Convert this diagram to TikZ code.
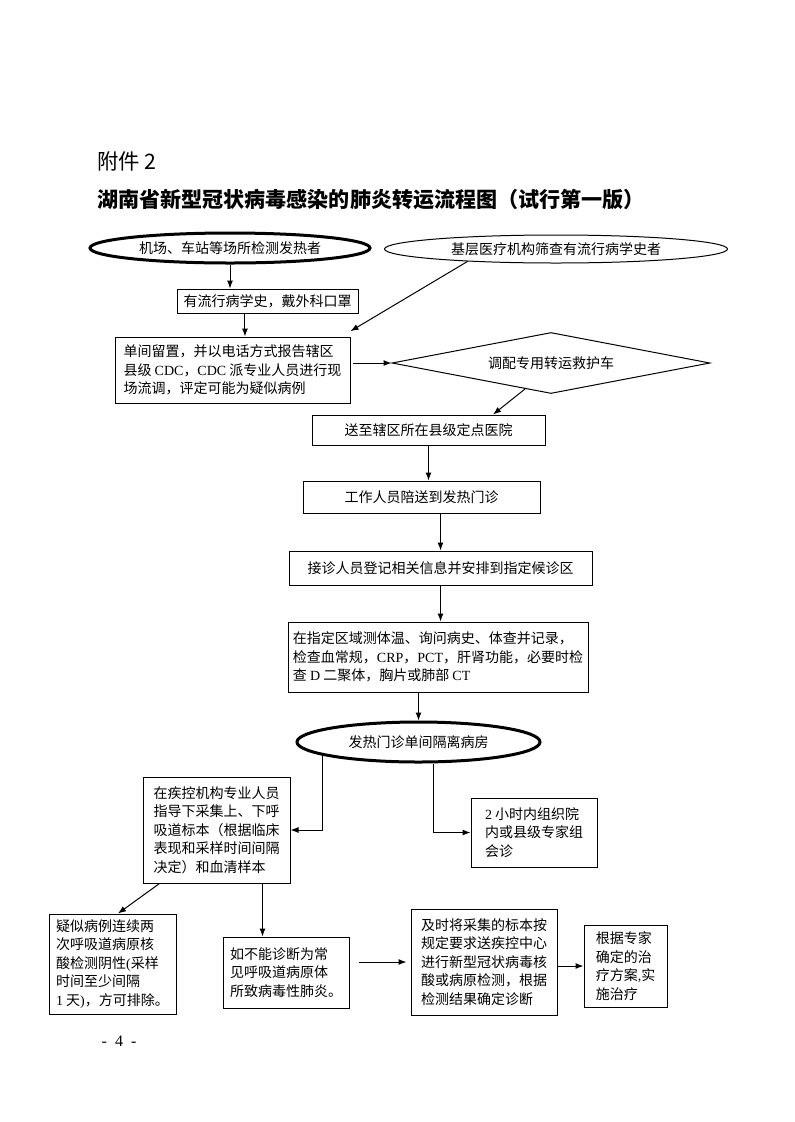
\documentclass[tikz,border=0pt]{standalone}
\usepackage{fontspec}
\setmainfont{Noto Sans CJK SC}
\newfontfamily\lat{Liberation Serif}
\usetikzlibrary{shapes.geometric,arrows.meta}

\begin{document}
\begin{tikzpicture}[x=0.75pt,y=-0.75pt,>={Latex[length=6pt,width=4.5pt]}]
    \tikzstyle{body}=[font=\fontsize{10.5pt}{13.9pt}\selectfont]
    \tikzstyle{box}=[body,rectangle,draw,line width=0.75pt,align=left,inner sep=2pt]
    \tikzstyle{oval}=[body,ellipse,draw,line width=0.75pt,inner sep=0pt]
    \tikzstyle{boldoval}=[oval,line width=2.25pt]
    \tikzstyle{choice}=[body,diamond,draw,line width=0.75pt,inner sep=0pt,shape aspect=5.2]
    \tikzstyle{arr}=[->,line width=0.75pt]
    \useasboundingbox (0,0) rectangle (794,1122);

    % heading
    \node[anchor=west,inner sep=0pt,font=\fontsize{16pt}{16pt}\selectfont] (annex) at (97,161) {附件 2};
    \node[anchor=west,inner sep=0pt,font=\fontsize{15.8pt}{16pt}\selectfont\bfseries] (title) at (97,200)
      {湖南省新型冠状病毒感染的肺炎转运流程图（试行第一版）};

    % top part
    \node[boldoval,minimum width=210pt,minimum height=22.5pt] (e1) at (230,248) {机场、车站等场所检测发热者};
    \node[oval,minimum width=257.25pt,minimum height=21pt] (e2) at (556,249) {基层医疗机构筛查有流行病学史者};
    \node[box,minimum width=135.75pt,minimum height=18pt] (b2) at (267.5,301) {有流行病学史，戴外科口罩};
    \node[box,minimum width=176.25pt,minimum height=49.5pt] (b4) at (232.5,370)
      {单间留置，并以电话方式报告辖区\\县级 {\lat CDC}，{\lat CDC} 派专业人员进行现\\场流调，评定可能为疑似病例};
    \node[choice,minimum width=238.5pt,minimum height=45.75pt] (d) at (551,363) {调配专用转运救护车};

    % hospital
    \node[box,minimum width=174.75pt,minimum height=22.5pt] (b5) at (428.5,430) {送至辖区所在县级定点医院};
    \node[box,minimum width=177.75pt,minimum height=24pt] (b6) at (421.5,497) {工作人员陪送到发热门诊};
    \node[box,minimum width=227.25pt,minimum height=25.5pt] (b7) at (440.5,568) {接诊人员登记相关信息并安排到指定候诊区};
    \node[box,minimum width=225pt,minimum height=52.5pt] (b8) at (438,657)
      {在指定区域测体温、询问病史、体查并记录，\\检查血常规，{\lat CRP}，{\lat PCT}，肝肾功能，必要时检\\查 {\lat D} 二聚体，胸片或肺部 {\lat CT}};
    \node[boldoval,minimum width=182.25pt,minimum height=30pt] (e3) at (418.5,742) {发热门诊单间隔离病房};

    % bottom part
    \node[box,minimum width=110.25pt,minimum height=79.5pt] (b9) at (216.5,830)
      {在疾控机构专业人员\\指导下采集上、下呼\\吸道标本（根据临床\\表现和采样时间间隔\\决定）和血清样本};
    \node[box,minimum width=94.5pt,minimum height=51.75pt] (b10) at (534,832.5)
      {{\lat 2} 小时内组织院\\内或县级专家组\\会诊};
    \node[box,minimum width=95.25pt,minimum height=75pt] (b11) at (112.5,964)
      {疑似病例连续两\\次呼吸道病原核\\酸检测阴性{\lat (}采样\\时间至少间隔\\{\lat 1} 天{\lat )}，方可排除。};
    \node[box,minimum width=94.5pt,minimum height=53.25pt] (b12) at (286,972.5)
      {如不能诊断为常\\见呼吸道病原体\\所致病毒性肺炎。};
    \node[box,minimum width=109.5pt,minimum height=79.5pt] (b13) at (484,962)
      {及时将采集的标本按\\规定要求送疾控中心\\进行新型冠状病毒核\\酸或病原检测，根据\\检测结果确定诊断};
    \node[box,minimum width=62.25pt,minimum height=61.5pt] (b14) at (625.5,966)
      {根据专家\\确定的治\\疗方案{\lat ,}实\\施治疗};

    \node[inner sep=0pt,font=\lat\fontsize{12pt}{12pt}\selectfont] (page) at (119,1041) {-\ \ 4\ \ -};

    % connectors
    \coordinate (a1) at ([xshift=-16.9pt]b2.south);
    \coordinate (a2) at ([xshift=10.9pt]e3.south);
    \coordinate (a3) at ([xshift=-21pt]b9.south east);
    \draw[arr] (e1.south) -- (e1.south |- b2.north);
    \draw[arr] (a1) -- (a1 |- b4.north);
    \draw[arr] (e2.188) -- ([yshift=4pt]b4.north east);
    \draw[arr,shorten <=2pt] (b4.east |- d.west) -- (d.west);
    \draw[arr] (d.225) -- ([xshift=48.4pt]b5.north);
    \draw[arr] (b5.south) -- (b5.south |- b6.north);
    \draw[arr] (b7.north |- b6.south) -- (b7.north);
    \draw[arr] (b7.south) -- (b7.south |- b8.north);
    \draw[arr] (e3.north |- b8.south) -- (e3.north);
    \draw[arr] (e3.188) |- (b9.east);
    \draw[arr] (a2) |- (b10.west);
    \draw[arr] ([xshift=12.75pt]b9.south west) -- ([xshift=4.1pt]b11.north);
    \draw[arr] (a3) -- (a3 |- b12.north);
    \draw[arr,shorten <=6.75pt,shorten >=3pt] (b12.east |- b13.west) -- (b13.west);
    \draw[arr] (b14.west -| b13.east) -- (b14.west);
\end{tikzpicture}
\end{document}
